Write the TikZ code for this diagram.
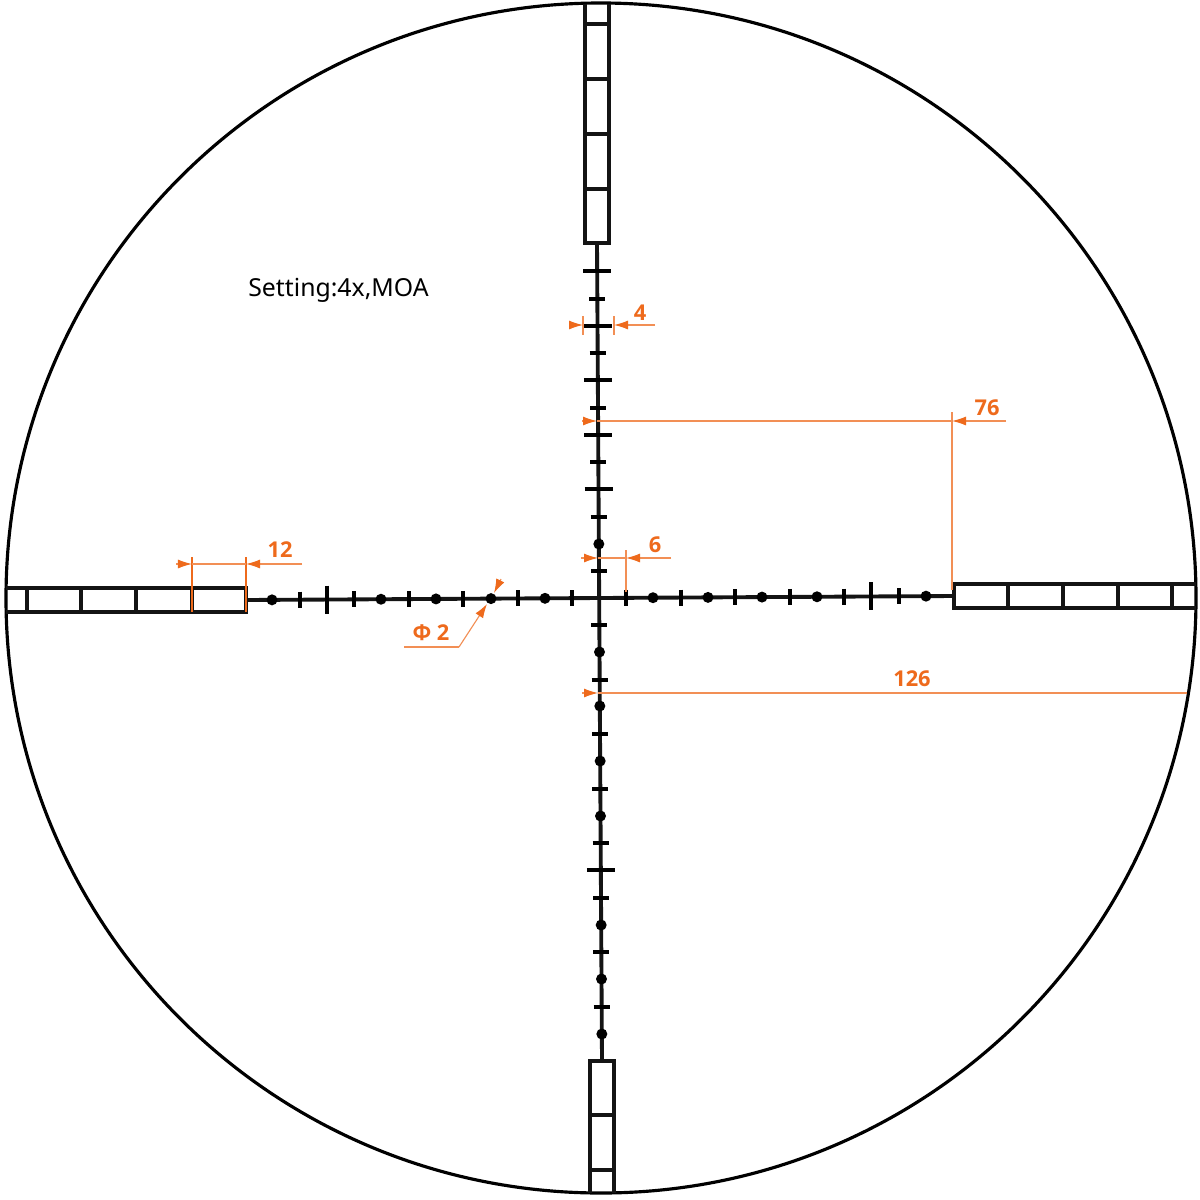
\documentclass[tikz,border=0pt]{standalone}
\usepackage{fontspec}
\setmainfont{Noto Sans}
\newfontfamily\dimfont{Open Sans}
\usetikzlibrary{arrows.meta}

\definecolor{dimorange}{HTML}{EE6A1C}
\tikzset{
  outline/.style={black,line width=0.9pt},
  reticle/.style={black!92,line width=1.1pt},
  majortick/.style={black,line width=1.15pt},
  minortick/.style={black,line width=1.05pt},
  dimline/.style={dimorange!75,line width=0.32pt},
  dimarrow/.style={dimline,-{Latex[length=0.14cm,width=0.09cm,color=dimorange]}},
  dimlabel/.style={text=dimorange,font=\fontsize{6.2}{7}\selectfont\dimfont\bfseries,inner sep=0pt},
  plainlabel/.style={text=black,font=\fontsize{7.05}{8}\selectfont,inner sep=0pt}
}

\begin{document}
\begin{tikzpicture}[x=0.01cm,y=-0.01cm]
  \useasboundingbox (0,0) rectangle (1200,1200);
  \fill[white] (0,0) rectangle (1200,1200);

  % scope outline
  \draw[outline] (601,598) circle [radius=595];

  % cross hair
  \draw[reticle] (597,243) -- (602,1061);
  \draw[reticle] (246,600) -- (954,596);

  % thick posts
  \draw[reticle] (585,4) -- (585,243) -- (609,243) -- (609,4);
  \foreach \py in {24,79,134,189}
    \draw[reticle] (585,\py) -- (609,\py);
  \draw[reticle] (590,1193) -- (590,1061) -- (614,1061) -- (614,1193);
  \foreach \py in {1115,1170}
    \draw[reticle] (590,\py) -- (614,\py);
  \draw[reticle] (6,588) -- (246,588) -- (246,612) -- (6,612);
  \foreach \px in {27,81,136,192}
    \draw[reticle] (\px,588) -- (\px,612);
  \draw[reticle] (1196,584) -- (954,584) -- (954,608) -- (1196,608);
  \foreach \px in {1008,1063,1118,1172}
    \draw[reticle] (\px,584) -- (\px,608);

  % marks on the vertical wire
  \foreach \py in {271,326,380,435,489,870}{
    \pgfmathsetmacro{\cx}{597+(\py-243)*5/818}
    \draw[majortick] (\cx-14,\py) -- (\cx+14,\py);
  }
  \foreach \py in {299,353,408,462,517,571,625,680,734,789,843,898,952,1007}{
    \pgfmathsetmacro{\cx}{597+(\py-243)*5/818}
    \draw[minortick] (\cx-8,\py) -- (\cx+8,\py);
  }
  \foreach \py in {544,652,706,761,816,925,979,1034}{
    \pgfmathsetmacro{\cx}{597+(\py-243)*5/818}
    \fill (\cx,\py) circle [radius=5.5];
  }

  % marks on the horizontal wire
  \foreach \px in {327,871}{
    \pgfmathsetmacro{\cy}{600-(\px-246)*4/708}
    \draw[majortick] (\px,\cy-14) -- (\px,\cy+14);
  }
  \foreach \px in {300,354,409,463,518,572,626,681,735,790,844,899}{
    \pgfmathsetmacro{\cy}{600-(\px-246)*4/708}
    \draw[minortick] (\px,\cy-8) -- (\px,\cy+8);
  }
  \foreach \px in {272,381,436,491,545,653,708,762,817,926}{
    \pgfmathsetmacro{\cy}{600-(\px-246)*4/708}
    \fill (\px,\cy) circle [radius=5.5];
  }

  \node[plainlabel] (setting) at (338.5,290) {Setting:4x,MOA};

  % dimension 4
  \coordinate (fourL) at (583,325);
  \coordinate (fourR) at (614,325);
  \draw[dimline] (583,316) -- (583,335);
  \draw[dimline] (614,316) -- (614,335);
  \draw[dimarrow] (570,325) -- (fourL);
  \draw[dimarrow] (655,325) -- (fourR);
  \node[dimlabel] (four) at (640,313) {4};

  % dimension 76
  \coordinate (sevenL) at (597,421);
  \coordinate (sevenR) at (952,421);
  \draw[dimarrow] (582,421) -- (sevenL);
  \draw[dimline] (sevenL) -- (sevenR);
  \draw[dimline] (952,412) -- (952,590);
  \draw[dimarrow] (1006,421) -- (sevenR);
  \node[dimlabel] (seventysix) at (987,408) {76};

  % dimension 6
  \coordinate (sixL) at (598,558);
  \coordinate (sixR) at (626,558);
  \draw[dimarrow] (581,558) -- (sixL);
  \draw[dimline] (sixL) -- (sixR);
  \draw[dimline] (626,550) -- (626,592);
  \draw[dimarrow] (671,558) -- (sixR);
  \node[dimlabel] (six) at (655,545) {6};

  % dimension 126
  \coordinate (longL) at (598,693);
  \coordinate (longR) at (1187,693);
  \draw[dimarrow] (582,693) -- (longL);
  \draw[dimline] (longL) -- (longR);
  \node[dimlabel] (onetwosix) at (912,679) {126};

  % dimension 12
  \coordinate (twelveL) at (192,564);
  \coordinate (twelveR) at (246,564);
  \draw[dimline,dimorange] (192,557) -- (192,612);
  \draw[dimline,dimorange] (246,557) -- (246,612);
  \draw[dimarrow] (176,564) -- (twelveL);
  \draw[dimline] (twelveL) -- (twelveR);
  \draw[dimarrow] (302,564) -- (twelveR);
  \node[dimlabel] (twelve) at (280,550) {12};

  % dot diameter
  \coordinate (dotA) at (487,604);
  \coordinate (dotB) at (494,593);
  \draw[dimline] (404,647) -- (459,647);
  \draw[dimarrow] (459,647) -- (dotA);
  \draw[dimarrow] (501,579) -- (dotB);
  \node[dimlabel] (dotsize) at (431,633) {Φ 2};
\end{tikzpicture}
\end{document}
